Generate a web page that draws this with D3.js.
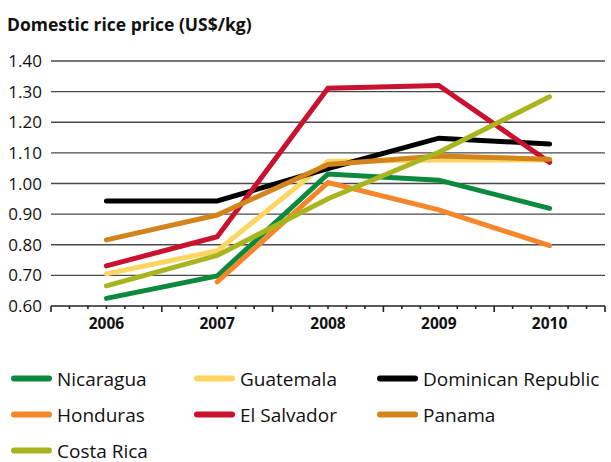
<!DOCTYPE html>
<html>
<head>
<meta charset="utf-8">
<script src="https://cdn.jsdelivr.net/npm/d3@7"></script>
<style>
  body { margin: 0; background: #fff; }
  text { font-family: "Open Sans", sans-serif; fill: #111; }
</style>
</head>
<body>
<script>
var years = ["2006", "2007", "2008", "2009", "2010"];
var yTicks = [0.6, 0.7, 0.8, 0.9, 1.0, 1.1, 1.2, 1.3, 1.4];

var countries = ["Nicaragua", "Guatemala", "Dominican Republic", "Honduras", "El Salvador", "Panama", "Costa Rica"];
var colours = ["#0b8a3e", "#fdd561", "#000000", "#f5862a", "#c8122f", "#d3841b", "#a9b520"];

var nicaragua  = [0.625, 0.698, 1.031, 1.011, 0.919];
var guatemala  = [0.705, 0.780, 1.072, 1.077, 1.077];
var dominican  = [0.943, 0.943, 1.049, 1.148, 1.129];
var honduras   = [null, 0.679, 1.003, 0.914, 0.797];
var elSalvador = [0.731, 0.826, 1.311, 1.320, 1.069];
var panama     = [0.816, 0.897, 1.062, 1.090, 1.079];
var costaRica  = [0.666, 0.765, 0.950, 1.102, 1.283];

var series = [nicaragua, guatemala, dominican, honduras, elSalvador, panama, costaRica];

var svg = d3.select("body").append("svg")
	.attr("width", 611)
	.attr("height", 462);

var x = d3.scaleBand().domain(years).range([51, 605]);
var y = d3.scaleLinear().domain([0.6, 1.4]).range([306, 61]);

// title
svg.append("text")
	.attr("x", 7)
	.attr("y", 31)
	.style("font-size", "17.5px")
	.style("font-weight", "bold")
	.text("Domestic rice price (US$/kg)");

// gridlines + y labels
svg.selectAll(".grid")
	.data(yTicks.slice(1))
	.enter().append("line")
	.attr("x1", 51)
	.attr("x2", 605)
	.attr("y1", function (d) { return y(d); })
	.attr("y2", function (d) { return y(d); })
	.attr("stroke", "#4a4a4a")
	.attr("stroke-width", 1.3);

svg.selectAll(".ylab")
	.data(yTicks)
	.enter().append("text")
	.attr("x", 42)
	.attr("y", function (d) { return y(d) + 6; })
	.attr("text-anchor", "end")
	.style("font-size", "17px")
	.text(function (d) { return d.toFixed(2); });

// x axis line and ticks
svg.append("line")
	.attr("x1", 51).attr("x2", 605)
	.attr("y1", y(0.6)).attr("y2", y(0.6))
	.attr("stroke", "#222").attr("stroke-width", 1.3);

var ticks = [];
years.forEach(function (yr, i) {
	for (var j = 0; j < 6; j++) ticks.push({ pos: x(yr) + x.step() * j / 6, major: j == 0 });
});
ticks.push({ pos: 605, major: true });

svg.selectAll(".tick")
	.data(ticks)
	.enter().append("line")
	.attr("x1", function (d) { return d.pos; })
	.attr("x2", function (d) { return d.pos; })
	.attr("y1", y(0.6))
	.attr("y2", function (d) { return y(0.6) + (d.major ? 6 : 3); })
	.attr("stroke", "#222")
	.attr("stroke-width", 1.6);

svg.selectAll(".xlab")
	.data(years)
	.enter().append("text")
	.attr("x", function (d) { return x(d) + x.bandwidth() / 2; })
	.attr("y", 329)
	.attr("text-anchor", "middle")
	.style("font-size", "15.5px")
	.style("font-weight", "bold")
	.text(function (d) { return d; });

// lines
var line = d3.line()
	.defined(function (d) { return d != null; })
	.x(function (d, i) { return x(years[i]) + x.bandwidth() / 2; })
	.y(function (d) { return y(d); });

series.forEach(function (s, k) {
	svg.append("path")
		.attr("d", line(s))
		.attr("fill", "none")
		.attr("stroke", colours[k])
		.attr("stroke-width", 5)
		.attr("stroke-linecap", "round")
		.attr("stroke-linejoin", "miter");
});

// legend
var colX = [12, 195, 378];
var rowY = [378.5, 414.5, 450.5];

countries.forEach(function (c, k) {
	var cx = colX[k % 3], cy = rowY[Math.floor(k / 3)];
	svg.append("line")
		.attr("x1", cx + 2).attr("x2", cx + 37)
		.attr("y1", cy).attr("y2", cy)
		.attr("stroke", colours[k])
		.attr("stroke-width", 6)
		.attr("stroke-linecap", "round");
	svg.append("text")
		.attr("x", cx + 45)
		.attr("y", cy + 7)
		.style("font-size", "19px")
		.text(c);
});
</script>
</body>
</html>
